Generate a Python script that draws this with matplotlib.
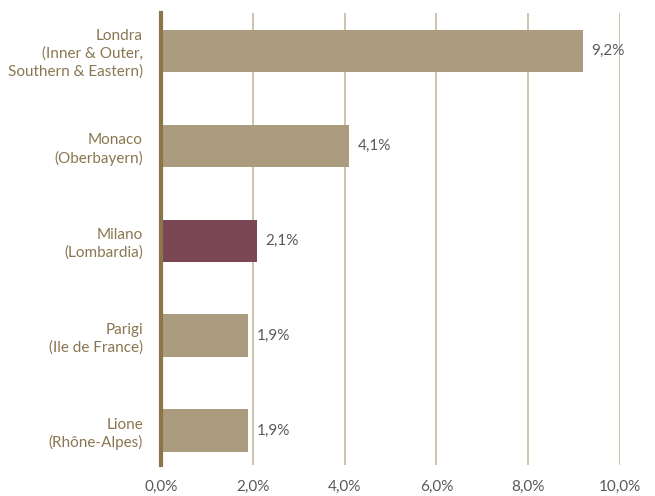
import matplotlib
matplotlib.use("Agg")
import matplotlib.pyplot as plt

regions = ["Londra\n(Inner & Outer,\nSouthern & Eastern)", "Monaco\n(Oberbayern)",
           "Milano\n(Lombardia)", "Parigi\n(Ile de France)", "Lione\n(Rhône-Alpes)"]
values = [9.2, 4.1, 2.1, 1.9, 1.9]
value_labels = ["9,2%", "4,1%", "2,1%", "1,9%", "1,9%"]
xticks = [0, 2, 4, 6, 8, 10]
xtick_labels = ["0,0%", "2,0%", "4,0%", "6,0%", "8,0%", "10,0%"]

plt.rcParams['font.family'] = ['Lato', 'DejaVu Sans']

tan = "#AB9C7F"
milano = "#7B4755"
label_col = "#8A7650"

fig = plt.figure(figsize=(6.55, 4.96), dpi=100)
ax = fig.add_axes([161/655, 1 - 465/496, (620-161)/655, (465-13)/496])

colors = [milano if r.startswith("Milano") else tan for r in regions]
ypos = list(range(len(regions)))
ax.barh(ypos, values, height=0.45, color=colors, zorder=3)
for y, v, s in zip(ypos, values, value_labels):
    ax.text(v + 0.18, y, s, va='center', ha='left', fontsize=11, color='#595959')

ax.set_xlim(0, 10)
ax.set_ylim(4.36, -0.4)
ax.set_xticks(xticks)
ax.set_xticklabels(xtick_labels, fontsize=11, color='#595959')
ax.set_yticks(ypos)
ax.set_yticklabels(regions, fontsize=11, color=label_col, linespacing=1.3)
ax.tick_params(axis='both', length=0)
ax.tick_params(axis='y', pad=13)
ax.tick_params(axis='x', pad=11)
ax.xaxis.grid(True, color="#C6B99C", linewidth=1.2, zorder=0)

for side in ['top', 'right', 'bottom']:
    ax.spines[side].set_visible(False)
ax.spines['left'].set_color("#8B7648")
ax.spines['left'].set_linewidth(3)
ax.spines['left'].set_zorder(4)

fig.savefig("out.png", dpi=100)
